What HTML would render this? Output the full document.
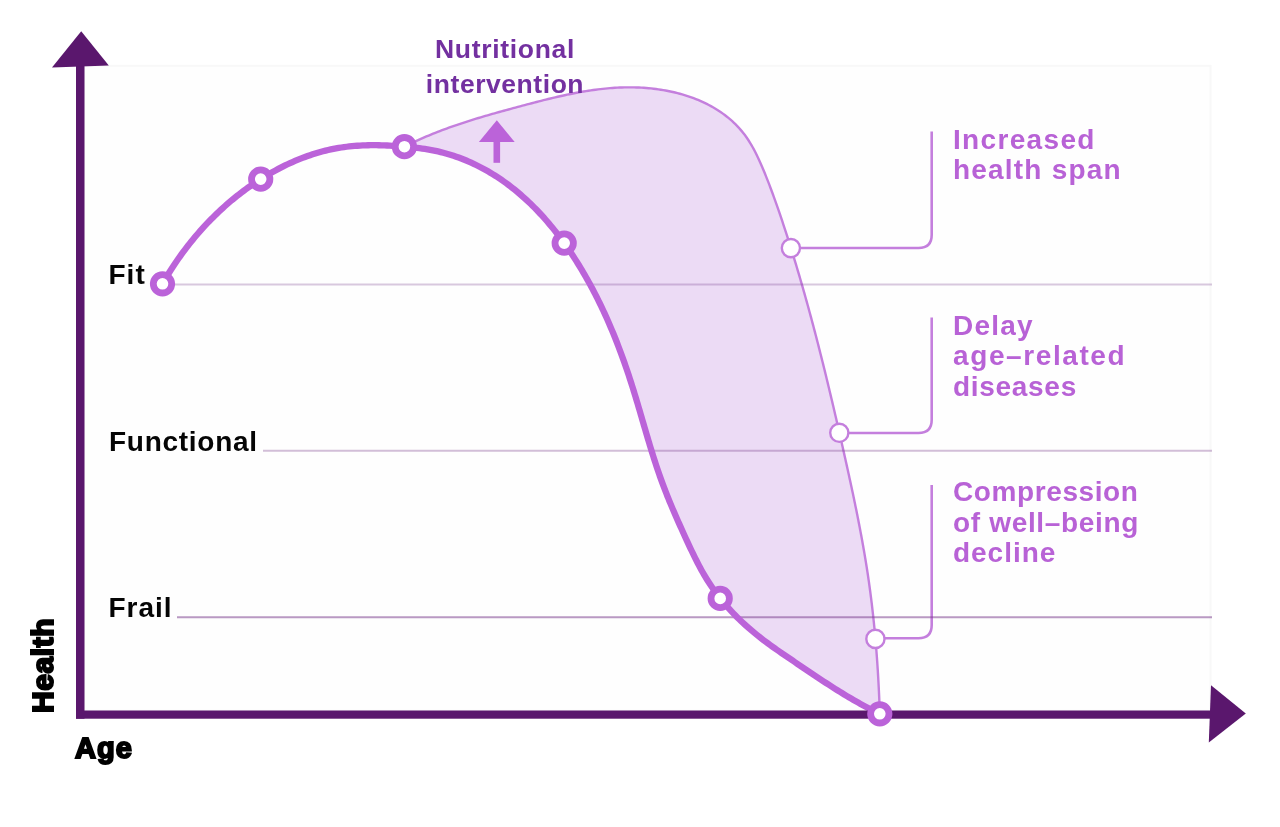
<!DOCTYPE html>
<html><head><meta charset="utf-8">
<style>
html,body{margin:0;padding:0;background:#fff;}
body{width:1280px;height:827px;position:relative;overflow:hidden;font-family:"Liberation Sans",sans-serif;}
#wrap{position:absolute;left:0;top:0;width:1280px;height:827px;background:#fff;filter:blur(0.45px);}
svg{position:absolute;left:0;top:0;}
.lbl{position:absolute;font-weight:bold;color:#050505;font-size:28px;line-height:1;white-space:nowrap;letter-spacing:1.0px;}
.rt{position:absolute;font-weight:bold;color:#b862d6;font-size:28px;line-height:30.4px;white-space:nowrap;letter-spacing:1.0px;}
.nt{position:absolute;font-weight:bold;color:#7330a0;font-size:26.5px;line-height:34.5px;white-space:nowrap;text-align:center;letter-spacing:0.7px;}
</style></head><body><div id="wrap">
<svg width="1280" height="827" viewBox="0 0 1280 827">
  <rect x="84" y="65.8" width="1126.5" height="645" fill="#fefefe" stroke="#f8f8f8" stroke-width="2"/>
  <path d="M404.40,146.70 L406.59,145.62 L408.78,144.53 L410.98,143.47 L413.17,142.42 L415.38,141.38 L417.58,140.37 L419.79,139.37 L422.01,138.38 L424.22,137.42 L426.44,136.46 L428.67,135.53 L430.90,134.61 L433.13,133.70 L435.37,132.80 L437.61,131.92 L439.85,131.06 L442.09,130.20 L444.34,129.36 L446.60,128.53 L448.85,127.71 L451.11,126.91 L453.37,126.11 L455.64,125.33 L457.91,124.56 L460.18,123.79 L462.45,123.04 L464.73,122.30 L467.01,121.56 L469.29,120.83 L471.58,120.12 L473.87,119.41 L476.16,118.70 L478.45,118.01 L480.75,117.32 L483.04,116.64 L485.34,115.96 L487.65,115.29 L489.95,114.63 L492.26,113.97 L494.57,113.32 L496.88,112.67 L499.20,112.02 L501.51,111.38 L503.83,110.74 L506.15,110.10 L508.47,109.47 L510.80,108.84 L513.12,108.21 L515.45,107.58 L517.78,106.96 L520.11,106.33 L522.44,105.71 L524.78,105.08 L527.11,104.46 L529.45,103.84 L531.79,103.23 L534.13,102.61 L536.47,102.00 L538.82,101.40 L541.16,100.80 L543.51,100.21 L545.86,99.62 L548.21,99.04 L550.57,98.46 L552.92,97.90 L555.28,97.34 L557.64,96.79 L560.00,96.25 L562.36,95.73 L564.72,95.21 L567.09,94.70 L569.45,94.21 L571.82,93.72 L574.19,93.25 L576.57,92.80 L578.94,92.36 L581.32,91.93 L583.70,91.52 L586.08,91.12 L588.46,90.74 L590.84,90.38 L593.23,90.03 L595.62,89.71 L598.01,89.40 L600.40,89.11 L602.80,88.84 L605.19,88.59 L607.59,88.36 L609.99,88.15 L612.39,87.96 L614.80,87.80 L617.20,87.66 L619.61,87.54 L622.02,87.45 L624.44,87.38 L626.85,87.34 L629.27,87.33 L631.69,87.34 L634.11,87.37 L636.53,87.44 L638.96,87.53 L641.38,87.65 L643.81,87.80 L646.24,87.98 L648.67,88.19 L651.10,88.43 L653.53,88.70 L655.95,89.00 L658.37,89.33 L660.79,89.70 L663.20,90.09 L665.60,90.52 L667.99,90.97 L670.38,91.46 L672.76,91.98 L675.13,92.54 L677.49,93.13 L679.83,93.75 L682.17,94.40 L684.49,95.09 L686.79,95.82 L689.08,96.57 L691.35,97.37 L693.61,98.19 L695.85,99.06 L698.06,99.96 L700.26,100.89 L702.44,101.86 L704.60,102.87 L706.73,103.91 L708.84,104.99 L710.92,106.11 L712.98,107.27 L715.02,108.46 L717.02,109.69 L719.00,110.97 L720.95,112.28 L722.87,113.62 L724.76,115.01 L726.61,116.44 L728.44,117.91 L730.23,119.42 L731.99,120.97 L733.71,122.55 L735.39,124.19 L737.04,125.86 L738.65,127.57 L740.22,129.33 L741.75,131.12 L743.24,132.96 L744.69,134.85 L746.10,136.77 L747.46,138.74 L748.79,140.75 L750.07,142.79 L751.32,144.87 L752.54,146.98 L753.72,149.12 L754.86,151.28 L755.98,153.47 L757.07,155.68 L758.14,157.91 L759.18,160.15 L760.20,162.41 L761.19,164.68 L762.17,166.96 L763.13,169.24 L764.08,171.52 L765.01,173.80 L765.93,176.09 L766.83,178.37 L767.73,180.64 L768.61,182.92 L769.49,185.19 L770.35,187.46 L771.21,189.73 L772.05,192.00 L772.89,194.27 L773.72,196.54 L774.54,198.81 L775.35,201.07 L776.15,203.34 L776.95,205.60 L777.74,207.87 L778.53,210.14 L779.31,212.41 L780.08,214.67 L780.85,216.94 L781.61,219.21 L782.37,221.48 L783.13,223.76 L783.88,226.03 L784.62,228.31 L785.37,230.59 L786.11,232.87 L786.85,235.15 L787.58,237.43 L788.31,239.71 L789.04,242.00 L789.76,244.29 L790.48,246.58 L791.19,248.87 L791.91,251.16 L792.62,253.45 L793.32,255.75 L794.02,258.04 L794.72,260.34 L795.42,262.64 L796.11,264.94 L796.80,267.24 L797.49,269.54 L798.17,271.85 L798.85,274.15 L799.53,276.46 L800.20,278.77 L800.88,281.07 L801.54,283.38 L802.21,285.70 L802.87,288.01 L803.53,290.32 L804.19,292.64 L804.84,294.95 L805.49,297.27 L806.14,299.59 L806.79,301.91 L807.43,304.23 L808.07,306.55 L808.71,308.87 L809.34,311.20 L809.97,313.52 L810.60,315.85 L811.23,318.17 L811.85,320.50 L812.48,322.83 L813.10,325.16 L813.71,327.49 L814.33,329.82 L814.94,332.15 L815.55,334.48 L816.16,336.81 L816.76,339.15 L817.37,341.48 L817.97,343.82 L818.57,346.15 L819.16,348.49 L819.76,350.83 L820.35,353.17 L820.94,355.51 L821.53,357.85 L822.11,360.19 L822.70,362.53 L823.28,364.87 L823.86,367.21 L824.44,369.55 L825.01,371.90 L825.59,374.24 L826.16,376.59 L826.73,378.93 L827.30,381.28 L827.87,383.62 L828.43,385.97 L829.00,388.31 L829.56,390.66 L830.12,393.01 L830.68,395.36 L831.24,397.70 L831.79,400.05 L832.35,402.40 L832.90,404.75 L833.45,407.10 L834.00,409.45 L834.55,411.80 L835.10,414.15 L835.65,416.50 L836.19,418.85 L836.73,421.20 L837.28,423.55 L837.82,425.90 L838.36,428.25 L838.90,430.61 L839.43,432.96 L839.97,435.31 L840.51,437.66 L841.04,440.01 L841.57,442.36 L842.11,444.71 L842.64,447.07 L843.17,449.42 L843.70,451.77 L844.23,454.12 L844.75,456.47 L845.28,458.82 L845.81,461.17 L846.33,463.53 L846.85,465.88 L847.37,468.23 L847.89,470.58 L848.41,472.93 L848.93,475.28 L849.44,477.64 L849.95,479.99 L850.46,482.34 L850.97,484.69 L851.48,487.05 L851.98,489.40 L852.48,491.76 L852.98,494.11 L853.48,496.47 L853.97,498.82 L854.46,501.18 L854.95,503.53 L855.43,505.89 L855.92,508.25 L856.40,510.60 L856.87,512.96 L857.34,515.32 L857.81,517.68 L858.28,520.04 L858.74,522.40 L859.20,524.76 L859.65,527.12 L860.10,529.49 L860.55,531.85 L860.99,534.21 L861.43,536.58 L861.87,538.95 L862.30,541.31 L862.72,543.68 L863.14,546.05 L863.56,548.42 L863.97,550.79 L864.38,553.16 L864.78,555.53 L865.18,557.91 L865.57,560.28 L865.96,562.66 L866.34,565.03 L866.72,567.41 L867.09,569.79 L867.46,572.17 L867.82,574.55 L868.17,576.93 L868.52,579.32 L868.87,581.70 L869.20,584.09 L869.54,586.48 L869.86,588.87 L870.18,591.26 L870.50,593.65 L870.81,596.04 L871.11,598.43 L871.41,600.83 L871.70,603.22 L871.99,605.62 L872.27,608.02 L872.54,610.41 L872.81,612.81 L873.08,615.21 L873.34,617.61 L873.59,620.01 L873.84,622.41 L874.09,624.82 L874.33,627.22 L874.56,629.62 L874.79,632.03 L875.01,634.43 L875.23,636.83 L875.44,639.24 L875.65,641.64 L875.86,644.05 L876.06,646.46 L876.25,648.86 L876.44,651.27 L876.62,653.68 L876.80,656.08 L876.98,658.49 L877.15,660.90 L877.32,663.30 L877.48,665.71 L877.63,668.12 L877.79,670.53 L877.94,672.93 L878.08,675.34 L878.22,677.75 L878.35,680.15 L878.48,682.56 L878.61,684.96 L878.73,687.37 L878.85,689.78 L878.96,692.18 L879.07,694.58 L879.18,696.99 L879.28,699.39 L879.38,701.79 L879.47,704.20 L879.56,706.60 L879.65,709.00 L879.73,711.40 L879.80,713.80 L879.80,713.80 L877.35,712.61 L874.91,711.42 L872.48,710.20 L870.06,708.97 L867.66,707.73 L865.27,706.46 L862.89,705.19 L860.52,703.89 L858.17,702.58 L855.82,701.26 L853.49,699.93 L851.16,698.58 L848.84,697.22 L846.54,695.84 L844.24,694.46 L841.95,693.06 L839.66,691.66 L837.38,690.24 L835.11,688.81 L832.85,687.37 L830.59,685.93 L828.33,684.48 L826.08,683.01 L823.83,681.55 L821.59,680.07 L819.35,678.59 L817.11,677.10 L814.87,675.61 L812.63,674.11 L810.40,672.61 L808.16,671.10 L805.93,669.59 L803.69,668.08 L801.46,666.56 L799.22,665.04 L796.98,663.52 L794.74,662.00 L792.49,660.48 L790.24,658.96 L787.99,657.43 L785.75,655.90 L783.50,654.37 L781.26,652.83 L779.02,651.28 L776.79,649.72 L774.56,648.15 L772.35,646.58 L770.14,644.99 L767.95,643.39 L765.76,641.77 L763.59,640.14 L761.44,638.49 L759.30,636.82 L757.18,635.14 L755.08,633.44 L753.00,631.71 L750.93,629.97 L748.89,628.20 L746.87,626.41 L744.87,624.61 L742.89,622.78 L740.94,620.93 L739.00,619.06 L737.09,617.17 L735.20,615.26 L733.34,613.32 L731.49,611.37 L729.68,609.40 L727.88,607.40 L726.12,605.38 L724.37,603.34 L722.65,601.28 L720.96,599.20 L719.30,597.10 L717.66,594.97 L716.05,592.82 L714.46,590.66 L712.91,588.47 L711.38,586.25 L709.88,584.02 L708.41,581.76 L706.96,579.49 L705.55,577.19 L704.17,574.86 L702.82,572.52 L701.49,570.16 L700.19,567.77 L698.91,565.38 L697.66,562.97 L696.42,560.54 L695.19,558.11 L693.98,555.67 L692.79,553.22 L691.60,550.77 L690.43,548.31 L689.27,545.85 L688.12,543.38 L686.97,540.92 L685.84,538.45 L684.71,535.98 L683.58,533.51 L682.46,531.04 L681.35,528.57 L680.24,526.11 L679.14,523.65 L678.04,521.18 L676.95,518.72 L675.87,516.25 L674.80,513.79 L673.73,511.32 L672.67,508.85 L671.63,506.38 L670.59,503.91 L669.56,501.43 L668.54,498.95 L667.54,496.46 L666.54,493.97 L665.56,491.48 L664.59,488.97 L663.64,486.47 L662.70,483.95 L661.77,481.43 L660.85,478.90 L659.95,476.37 L659.06,473.82 L658.19,471.28 L657.32,468.72 L656.47,466.16 L655.62,463.60 L654.79,461.03 L653.96,458.46 L653.14,455.88 L652.33,453.30 L651.53,450.72 L650.73,448.13 L649.94,445.54 L649.16,442.95 L648.38,440.35 L647.61,437.75 L646.83,435.15 L646.07,432.55 L645.30,429.95 L644.54,427.35 L643.78,424.75 L643.02,422.14 L642.25,419.54 L641.49,416.94 L640.73,414.33 L639.97,411.73 L639.20,409.13 L638.44,406.53 L637.67,403.94 L636.89,401.34 L636.11,398.75 L635.33,396.16 L634.54,393.58 L633.75,390.99 L632.95,388.42 L632.14,385.84 L631.32,383.27 L630.50,380.71 L629.67,378.14 L628.83,375.59 L627.98,373.04 L627.12,370.49 L626.25,367.94 L625.37,365.41 L624.49,362.87 L623.59,360.34 L622.68,357.82 L621.77,355.30 L620.84,352.78 L619.90,350.27 L618.96,347.77 L618.00,345.27 L617.03,342.77 L616.05,340.28 L615.06,337.79 L614.05,335.31 L613.04,332.83 L612.01,330.36 L610.97,327.90 L609.92,325.43 L608.86,322.98 L607.78,320.52 L606.69,318.07 L605.59,315.63 L604.47,313.19 L603.35,310.76 L602.20,308.33 L601.05,305.91 L599.88,303.49 L598.69,301.08 L597.49,298.67 L596.28,296.27 L595.05,293.87 L593.81,291.47 L592.55,289.09 L591.28,286.70 L589.99,284.33 L588.69,281.95 L587.37,279.59 L586.03,277.23 L584.68,274.87 L583.31,272.52 L581.93,270.19 L580.53,267.85 L579.11,265.53 L577.68,263.22 L576.23,260.91 L574.76,258.62 L573.28,256.33 L571.78,254.06 L570.27,251.80 L568.74,249.54 L567.19,247.30 L565.62,245.08 L564.04,242.86 L562.44,240.66 L560.82,238.48 L559.18,236.30 L557.53,234.14 L555.86,232.00 L554.17,229.87 L552.47,227.76 L550.74,225.67 L549.00,223.59 L547.24,221.53 L545.47,219.49 L543.67,217.46 L541.86,215.46 L540.03,213.47 L538.18,211.50 L536.31,209.56 L534.42,207.63 L532.51,205.72 L530.59,203.84 L528.64,201.98 L526.68,200.14 L524.70,198.32 L522.70,196.53 L520.68,194.76 L518.64,193.01 L516.58,191.29 L514.50,189.59 L512.40,187.92 L510.29,186.27 L508.15,184.65 L505.99,183.06 L503.81,181.49 L501.62,179.96 L499.40,178.45 L497.16,176.97 L494.91,175.51 L492.63,174.09 L490.33,172.70 L488.01,171.33 L485.67,170.00 L483.31,168.70 L480.93,167.43 L478.53,166.20 L476.11,164.99 L473.68,163.83 L471.22,162.69 L468.75,161.59 L466.27,160.53 L463.77,159.51 L461.25,158.52 L458.72,157.57 L456.17,156.66 L453.62,155.79 L451.05,154.96 L448.47,154.17 L445.87,153.43 L443.27,152.72 L440.66,152.06 L438.03,151.44 L435.40,150.87 L432.76,150.34 L430.11,149.85 L427.46,149.39 L424.80,148.97 L422.13,148.58 L419.45,148.22 L416.77,147.89 L414.09,147.58 L411.40,147.30 L408.70,147.03 L406.01,146.78 L403.31,146.55 Z" fill="#ecdbf5" stroke="none"/>
  <path d="M404.40,146.70 L406.59,145.62 L408.78,144.53 L410.98,143.47 L413.17,142.42 L415.38,141.38 L417.58,140.37 L419.79,139.37 L422.01,138.38 L424.22,137.42 L426.44,136.46 L428.67,135.53 L430.90,134.61 L433.13,133.70 L435.37,132.80 L437.61,131.92 L439.85,131.06 L442.09,130.20 L444.34,129.36 L446.60,128.53 L448.85,127.71 L451.11,126.91 L453.37,126.11 L455.64,125.33 L457.91,124.56 L460.18,123.79 L462.45,123.04 L464.73,122.30 L467.01,121.56 L469.29,120.83 L471.58,120.12 L473.87,119.41 L476.16,118.70 L478.45,118.01 L480.75,117.32 L483.04,116.64 L485.34,115.96 L487.65,115.29 L489.95,114.63 L492.26,113.97 L494.57,113.32 L496.88,112.67 L499.20,112.02 L501.51,111.38 L503.83,110.74 L506.15,110.10 L508.47,109.47 L510.80,108.84 L513.12,108.21 L515.45,107.58 L517.78,106.96 L520.11,106.33 L522.44,105.71 L524.78,105.08 L527.11,104.46 L529.45,103.84 L531.79,103.23 L534.13,102.61 L536.47,102.00 L538.82,101.40 L541.16,100.80 L543.51,100.21 L545.86,99.62 L548.21,99.04 L550.57,98.46 L552.92,97.90 L555.28,97.34 L557.64,96.79 L560.00,96.25 L562.36,95.73 L564.72,95.21 L567.09,94.70 L569.45,94.21 L571.82,93.72 L574.19,93.25 L576.57,92.80 L578.94,92.36 L581.32,91.93 L583.70,91.52 L586.08,91.12 L588.46,90.74 L590.84,90.38 L593.23,90.03 L595.62,89.71 L598.01,89.40 L600.40,89.11 L602.80,88.84 L605.19,88.59 L607.59,88.36 L609.99,88.15 L612.39,87.96 L614.80,87.80 L617.20,87.66 L619.61,87.54 L622.02,87.45 L624.44,87.38 L626.85,87.34 L629.27,87.33 L631.69,87.34 L634.11,87.37 L636.53,87.44 L638.96,87.53 L641.38,87.65 L643.81,87.80 L646.24,87.98 L648.67,88.19 L651.10,88.43 L653.53,88.70 L655.95,89.00 L658.37,89.33 L660.79,89.70 L663.20,90.09 L665.60,90.52 L667.99,90.97 L670.38,91.46 L672.76,91.98 L675.13,92.54 L677.49,93.13 L679.83,93.75 L682.17,94.40 L684.49,95.09 L686.79,95.82 L689.08,96.57 L691.35,97.37 L693.61,98.19 L695.85,99.06 L698.06,99.96 L700.26,100.89 L702.44,101.86 L704.60,102.87 L706.73,103.91 L708.84,104.99 L710.92,106.11 L712.98,107.27 L715.02,108.46 L717.02,109.69 L719.00,110.97 L720.95,112.28 L722.87,113.62 L724.76,115.01 L726.61,116.44 L728.44,117.91 L730.23,119.42 L731.99,120.97 L733.71,122.55 L735.39,124.19 L737.04,125.86 L738.65,127.57 L740.22,129.33 L741.75,131.12 L743.24,132.96 L744.69,134.85 L746.10,136.77 L747.46,138.74 L748.79,140.75 L750.07,142.79 L751.32,144.87 L752.54,146.98 L753.72,149.12 L754.86,151.28 L755.98,153.47 L757.07,155.68 L758.14,157.91 L759.18,160.15 L760.20,162.41 L761.19,164.68 L762.17,166.96 L763.13,169.24 L764.08,171.52 L765.01,173.80 L765.93,176.09 L766.83,178.37 L767.73,180.64 L768.61,182.92 L769.49,185.19 L770.35,187.46 L771.21,189.73 L772.05,192.00 L772.89,194.27 L773.72,196.54 L774.54,198.81 L775.35,201.07 L776.15,203.34 L776.95,205.60 L777.74,207.87 L778.53,210.14 L779.31,212.41 L780.08,214.67 L780.85,216.94 L781.61,219.21 L782.37,221.48 L783.13,223.76 L783.88,226.03 L784.62,228.31 L785.37,230.59 L786.11,232.87 L786.85,235.15 L787.58,237.43 L788.31,239.71 L789.04,242.00 L789.76,244.29 L790.48,246.58 L791.19,248.87 L791.91,251.16 L792.62,253.45 L793.32,255.75 L794.02,258.04 L794.72,260.34 L795.42,262.64 L796.11,264.94 L796.80,267.24 L797.49,269.54 L798.17,271.85 L798.85,274.15 L799.53,276.46 L800.20,278.77 L800.88,281.07 L801.54,283.38 L802.21,285.70 L802.87,288.01 L803.53,290.32 L804.19,292.64 L804.84,294.95 L805.49,297.27 L806.14,299.59 L806.79,301.91 L807.43,304.23 L808.07,306.55 L808.71,308.87 L809.34,311.20 L809.97,313.52 L810.60,315.85 L811.23,318.17 L811.85,320.50 L812.48,322.83 L813.10,325.16 L813.71,327.49 L814.33,329.82 L814.94,332.15 L815.55,334.48 L816.16,336.81 L816.76,339.15 L817.37,341.48 L817.97,343.82 L818.57,346.15 L819.16,348.49 L819.76,350.83 L820.35,353.17 L820.94,355.51 L821.53,357.85 L822.11,360.19 L822.70,362.53 L823.28,364.87 L823.86,367.21 L824.44,369.55 L825.01,371.90 L825.59,374.24 L826.16,376.59 L826.73,378.93 L827.30,381.28 L827.87,383.62 L828.43,385.97 L829.00,388.31 L829.56,390.66 L830.12,393.01 L830.68,395.36 L831.24,397.70 L831.79,400.05 L832.35,402.40 L832.90,404.75 L833.45,407.10 L834.00,409.45 L834.55,411.80 L835.10,414.15 L835.65,416.50 L836.19,418.85 L836.73,421.20 L837.28,423.55 L837.82,425.90 L838.36,428.25 L838.90,430.61 L839.43,432.96 L839.97,435.31 L840.51,437.66 L841.04,440.01 L841.57,442.36 L842.11,444.71 L842.64,447.07 L843.17,449.42 L843.70,451.77 L844.23,454.12 L844.75,456.47 L845.28,458.82 L845.81,461.17 L846.33,463.53 L846.85,465.88 L847.37,468.23 L847.89,470.58 L848.41,472.93 L848.93,475.28 L849.44,477.64 L849.95,479.99 L850.46,482.34 L850.97,484.69 L851.48,487.05 L851.98,489.40 L852.48,491.76 L852.98,494.11 L853.48,496.47 L853.97,498.82 L854.46,501.18 L854.95,503.53 L855.43,505.89 L855.92,508.25 L856.40,510.60 L856.87,512.96 L857.34,515.32 L857.81,517.68 L858.28,520.04 L858.74,522.40 L859.20,524.76 L859.65,527.12 L860.10,529.49 L860.55,531.85 L860.99,534.21 L861.43,536.58 L861.87,538.95 L862.30,541.31 L862.72,543.68 L863.14,546.05 L863.56,548.42 L863.97,550.79 L864.38,553.16 L864.78,555.53 L865.18,557.91 L865.57,560.28 L865.96,562.66 L866.34,565.03 L866.72,567.41 L867.09,569.79 L867.46,572.17 L867.82,574.55 L868.17,576.93 L868.52,579.32 L868.87,581.70 L869.20,584.09 L869.54,586.48 L869.86,588.87 L870.18,591.26 L870.50,593.65 L870.81,596.04 L871.11,598.43 L871.41,600.83 L871.70,603.22 L871.99,605.62 L872.27,608.02 L872.54,610.41 L872.81,612.81 L873.08,615.21 L873.34,617.61 L873.59,620.01 L873.84,622.41 L874.09,624.82 L874.33,627.22 L874.56,629.62 L874.79,632.03 L875.01,634.43 L875.23,636.83 L875.44,639.24 L875.65,641.64 L875.86,644.05 L876.06,646.46 L876.25,648.86 L876.44,651.27 L876.62,653.68 L876.80,656.08 L876.98,658.49 L877.15,660.90 L877.32,663.30 L877.48,665.71 L877.63,668.12 L877.79,670.53 L877.94,672.93 L878.08,675.34 L878.22,677.75 L878.35,680.15 L878.48,682.56 L878.61,684.96 L878.73,687.37 L878.85,689.78 L878.96,692.18 L879.07,694.58 L879.18,696.99 L879.28,699.39 L879.38,701.79 L879.47,704.20 L879.56,706.60 L879.65,709.00 L879.73,711.40 L879.80,713.80" fill="none" stroke="#c47fdd" stroke-width="2.4"/>
  <path d="M800,248 H918.5 Q931.7,248 931.7,234.8 V131.5" fill="none" stroke="#c47fdd" stroke-width="2.6"/>
  <path d="M849,433 H918.5 Q931.7,433 931.7,419.8 V317.5" fill="none" stroke="#c47fdd" stroke-width="2.6"/>
  <path d="M885,638.2 H918.5 Q931.7,638.2 931.7,625 V485" fill="none" stroke="#c47fdd" stroke-width="2.6"/>
  <line x1="170" y1="284.6" x2="1212" y2="284.6" stroke="rgba(120,60,140,0.28)" stroke-width="2"/>
  <line x1="263" y1="450.7" x2="1212" y2="450.7" stroke="rgba(120,60,140,0.33)" stroke-width="2"/>
  <line x1="177" y1="617.2" x2="1212" y2="617.2" stroke="rgba(120,60,140,0.52)" stroke-width="2"/>
  <path d="M162.50,283.80 L163.84,281.47 L165.19,279.15 L166.57,276.84 L167.97,274.54 L169.39,272.25 L170.83,269.98 L172.29,267.71 L173.76,265.46 L175.26,263.22 L176.78,260.99 L178.31,258.77 L179.87,256.57 L181.44,254.38 L183.04,252.20 L184.65,250.03 L186.28,247.88 L187.94,245.74 L189.61,243.62 L191.30,241.51 L193.00,239.42 L194.73,237.34 L196.47,235.27 L198.24,233.22 L200.02,231.19 L201.82,229.17 L203.63,227.17 L205.47,225.18 L207.32,223.21 L209.19,221.26 L211.08,219.32 L212.99,217.41 L214.91,215.50 L216.85,213.62 L218.81,211.76 L220.79,209.91 L222.78,208.08 L224.79,206.27 L226.82,204.48 L228.86,202.71 L230.92,200.96 L233.00,199.22 L235.09,197.51 L237.20,195.82 L239.33,194.15 L241.47,192.50 L243.63,190.87 L245.81,189.26 L248.00,187.67 L250.21,186.11 L252.43,184.56 L254.67,183.04 L256.93,181.54 L259.20,180.06 L261.48,178.61 L263.78,177.18 L266.10,175.77 L268.43,174.39 L270.78,173.03 L273.14,171.70 L275.51,170.40 L277.90,169.12 L280.30,167.86 L282.72,166.64 L285.14,165.45 L287.58,164.28 L290.04,163.14 L292.50,162.03 L294.98,160.96 L297.47,159.91 L299.97,158.90 L302.48,157.92 L305.00,156.97 L307.54,156.06 L310.08,155.18 L312.64,154.33 L315.20,153.52 L317.77,152.75 L320.36,152.01 L322.95,151.31 L325.55,150.65 L328.16,150.02 L330.77,149.43 L333.40,148.89 L336.03,148.38 L338.67,147.91 L341.32,147.49 L343.98,147.10 L346.64,146.75 L349.31,146.45 L351.98,146.17 L354.66,145.94 L357.34,145.74 L360.03,145.57 L362.72,145.44 L365.42,145.33 L368.12,145.26 L370.82,145.22 L373.53,145.20 L376.23,145.21 L378.94,145.25 L381.65,145.31 L384.36,145.40 L387.07,145.51 L389.78,145.63 L392.49,145.78 L395.19,145.95 L397.90,146.13 L400.61,146.34 L403.31,146.55 L406.01,146.78 L408.70,147.03 L411.40,147.30 L414.09,147.58 L416.77,147.89 L419.45,148.22 L422.13,148.58 L424.80,148.97 L427.46,149.39 L430.11,149.85 L432.76,150.34 L435.40,150.87 L438.03,151.44 L440.66,152.06 L443.27,152.72 L445.87,153.43 L448.47,154.17 L451.05,154.96 L453.62,155.79 L456.17,156.66 L458.72,157.57 L461.25,158.52 L463.77,159.51 L466.27,160.53 L468.75,161.59 L471.22,162.69 L473.68,163.83 L476.11,164.99 L478.53,166.20 L480.93,167.43 L483.31,168.70 L485.67,170.00 L488.01,171.33 L490.33,172.70 L492.63,174.09 L494.91,175.51 L497.16,176.97 L499.40,178.45 L501.62,179.96 L503.81,181.49 L505.99,183.06 L508.15,184.65 L510.29,186.27 L512.40,187.92 L514.50,189.59 L516.58,191.29 L518.64,193.01 L520.68,194.76 L522.70,196.53 L524.70,198.32 L526.68,200.14 L528.64,201.98 L530.59,203.84 L532.51,205.72 L534.42,207.63 L536.31,209.56 L538.18,211.50 L540.03,213.47 L541.86,215.46 L543.67,217.46 L545.47,219.49 L547.24,221.53 L549.00,223.59 L550.74,225.67 L552.47,227.76 L554.17,229.87 L555.86,232.00 L557.53,234.14 L559.18,236.30 L560.82,238.48 L562.44,240.66 L564.04,242.86 L565.62,245.08 L567.19,247.30 L568.74,249.54 L570.27,251.80 L571.78,254.06 L573.28,256.33 L574.76,258.62 L576.23,260.91 L577.68,263.22 L579.11,265.53 L580.53,267.85 L581.93,270.19 L583.31,272.52 L584.68,274.87 L586.03,277.23 L587.37,279.59 L588.69,281.95 L589.99,284.33 L591.28,286.70 L592.55,289.09 L593.81,291.47 L595.05,293.87 L596.28,296.27 L597.49,298.67 L598.69,301.08 L599.88,303.49 L601.05,305.91 L602.20,308.33 L603.35,310.76 L604.47,313.19 L605.59,315.63 L606.69,318.07 L607.78,320.52 L608.86,322.98 L609.92,325.43 L610.97,327.90 L612.01,330.36 L613.04,332.83 L614.05,335.31 L615.06,337.79 L616.05,340.28 L617.03,342.77 L618.00,345.27 L618.96,347.77 L619.90,350.27 L620.84,352.78 L621.77,355.30 L622.68,357.82 L623.59,360.34 L624.49,362.87 L625.37,365.41 L626.25,367.94 L627.12,370.49 L627.98,373.04 L628.83,375.59 L629.67,378.14 L630.50,380.71 L631.32,383.27 L632.14,385.84 L632.95,388.42 L633.75,390.99 L634.54,393.58 L635.33,396.16 L636.11,398.75 L636.89,401.34 L637.67,403.94 L638.44,406.53 L639.20,409.13 L639.97,411.73 L640.73,414.33 L641.49,416.94 L642.25,419.54 L643.02,422.14 L643.78,424.75 L644.54,427.35 L645.30,429.95 L646.07,432.55 L646.83,435.15 L647.61,437.75 L648.38,440.35 L649.16,442.95 L649.94,445.54 L650.73,448.13 L651.53,450.72 L652.33,453.30 L653.14,455.88 L653.96,458.46 L654.79,461.03 L655.62,463.60 L656.47,466.16 L657.32,468.72 L658.19,471.28 L659.06,473.82 L659.95,476.37 L660.85,478.90 L661.77,481.43 L662.70,483.95 L663.64,486.47 L664.59,488.97 L665.56,491.48 L666.54,493.97 L667.54,496.46 L668.54,498.95 L669.56,501.43 L670.59,503.91 L671.63,506.38 L672.67,508.85 L673.73,511.32 L674.80,513.79 L675.87,516.25 L676.95,518.72 L678.04,521.18 L679.14,523.65 L680.24,526.11 L681.35,528.57 L682.46,531.04 L683.58,533.51 L684.71,535.98 L685.84,538.45 L686.97,540.92 L688.12,543.38 L689.27,545.85 L690.43,548.31 L691.60,550.77 L692.79,553.22 L693.98,555.67 L695.19,558.11 L696.42,560.54 L697.66,562.97 L698.91,565.38 L700.19,567.77 L701.49,570.16 L702.82,572.52 L704.17,574.86 L705.55,577.19 L706.96,579.49 L708.41,581.76 L709.88,584.02 L711.38,586.25 L712.91,588.47 L714.46,590.66 L716.05,592.82 L717.66,594.97 L719.30,597.10 L720.96,599.20 L722.65,601.28 L724.37,603.34 L726.12,605.38 L727.88,607.40 L729.68,609.40 L731.49,611.37 L733.34,613.32 L735.20,615.26 L737.09,617.17 L739.00,619.06 L740.94,620.93 L742.89,622.78 L744.87,624.61 L746.87,626.41 L748.89,628.20 L750.93,629.97 L753.00,631.71 L755.08,633.44 L757.18,635.14 L759.30,636.82 L761.44,638.49 L763.59,640.14 L765.76,641.77 L767.95,643.39 L770.14,644.99 L772.35,646.58 L774.56,648.15 L776.79,649.72 L779.02,651.28 L781.26,652.83 L783.50,654.37 L785.75,655.90 L787.99,657.43 L790.24,658.96 L792.49,660.48 L794.74,662.00 L796.98,663.52 L799.22,665.04 L801.46,666.56 L803.69,668.08 L805.93,669.59 L808.16,671.10 L810.40,672.61 L812.63,674.11 L814.87,675.61 L817.11,677.10 L819.35,678.59 L821.59,680.07 L823.83,681.55 L826.08,683.01 L828.33,684.48 L830.59,685.93 L832.85,687.37 L835.11,688.81 L837.38,690.24 L839.66,691.66 L841.95,693.06 L844.24,694.46 L846.54,695.84 L848.84,697.22 L851.16,698.58 L853.49,699.93 L855.82,701.26 L858.17,702.58 L860.52,703.89 L862.89,705.19 L865.27,706.46 L867.66,707.73 L870.06,708.97 L872.48,710.20 L874.91,711.42 L877.35,712.61 L879.80,713.80" fill="none" stroke="#bb63d9" stroke-width="6.3"/>
  <!-- small arrow -->
  <polygon points="496.8,120.2 478.9,142 514.7,142" fill="#bb63d9"/>
  <rect x="493.5" y="141" width="6.6" height="21.8" fill="#bb63d9"/>
  <!-- axes -->
  <rect x="76" y="64" width="8.5" height="654.7" fill="#5a176d"/>
  <rect x="76" y="710.5" width="1136" height="8.2" fill="#5a176d"/>
  <polygon points="81.2,31.2 52,67.6 108.8,65.4" fill="#5a176d"/>
  <polygon points="1211,685.2 1208.8,742.4 1245.8,713.5" fill="#5a176d"/>
  <circle cx="162.5" cy="283.8" r="9.2" fill="#fff" stroke="#bb63d9" stroke-width="6.8"/>
  <circle cx="260.7" cy="179.1" r="9.2" fill="#fff" stroke="#bb63d9" stroke-width="6.8"/>
  <circle cx="404.4" cy="146.7" r="9.2" fill="#fff" stroke="#bb63d9" stroke-width="6.8"/>
  <circle cx="564.2" cy="243.1" r="9.2" fill="#fff" stroke="#bb63d9" stroke-width="6.8"/>
  <circle cx="720.2" cy="598.4" r="9.2" fill="#fff" stroke="#bb63d9" stroke-width="6.8"/>
  <circle cx="879.8" cy="713.8" r="9.2" fill="#fff" stroke="#bb63d9" stroke-width="6.8"/>
  <circle cx="790.9" cy="248.1" r="9.1" fill="#fff" stroke="#c47fdd" stroke-width="2.4"/>
  <circle cx="839.3" cy="432.8" r="9.1" fill="#fff" stroke="#c47fdd" stroke-width="2.4"/>
  <circle cx="875.4" cy="638.9" r="9.1" fill="#fff" stroke="#c47fdd" stroke-width="2.4"/>
</svg>
<div class="lbl" style="left:108.5px;top:260.5px;">Fit</div>
<div class="lbl" style="left:109px;top:427.5px;letter-spacing:0.72px;">Functional</div>
<div class="lbl" style="left:108.5px;top:593.5px;">Frail</div>
<div class="nt" style="left:405px;top:32px;width:200px;">Nutritional<br><span style="letter-spacing:0.55px">intervention</span></div>
<div class="rt" style="left:953px;top:124.7px;"><span style="letter-spacing:1.33px">Increased</span><br><span style="letter-spacing:1.2px">health span</span></div>
<div class="rt" style="left:953px;top:310.7px;"><span style="letter-spacing:1.2px">Delay</span><br><span style="letter-spacing:1.6px">age–related</span><br><span style="letter-spacing:0.7px">diseases</span></div>
<div class="rt" style="left:953px;top:477.3px;"><span style="letter-spacing:0.6px">Compression</span><br><span style="letter-spacing:0.67px">of well–being</span><br><span style="letter-spacing:0.97px">decline</span></div>
<div class="lbl" style="left:75px;top:734px;font-size:29px;-webkit-text-stroke:2px #000;color:#000;">Age</div>
<div class="lbl" style="left:28px;top:713px;font-size:30px;letter-spacing:0.6px;-webkit-text-stroke:2px #000;color:#000;transform-origin:0 0;transform:rotate(-90deg);">Health</div>
</div></body></html>
